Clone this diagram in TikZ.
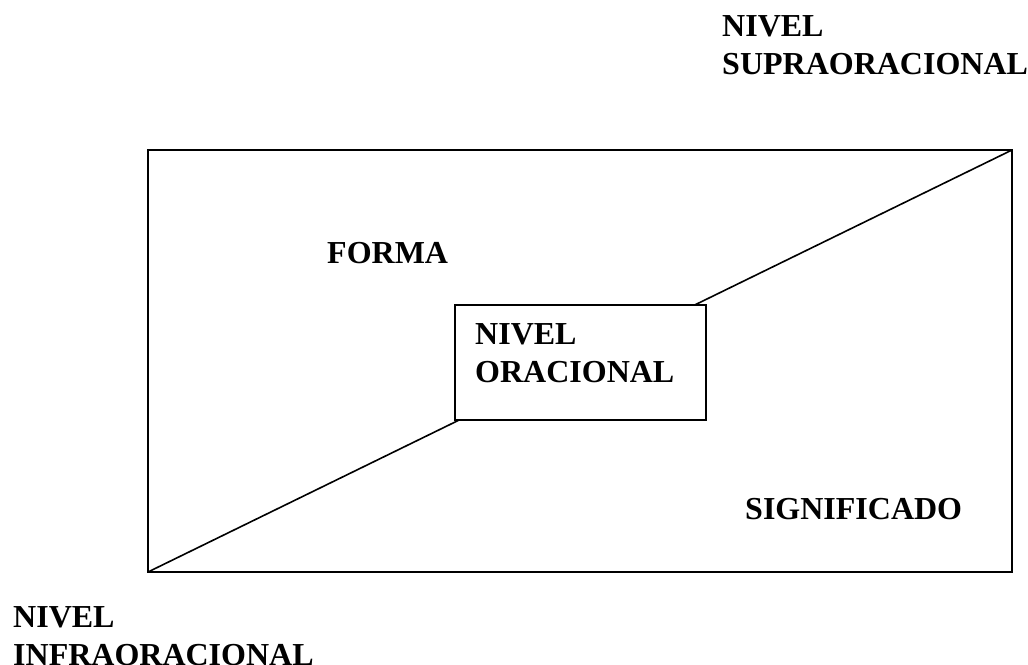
\documentclass[tikz,border=0pt]{standalone}
\usepackage{fontspec}
\setmainfont{Liberation Serif}
\begin{document}
\begin{tikzpicture}[x=1pt,y=-1pt,
  frame/.style={draw=black,line width=2pt},
  lbl/.style={anchor=base west,inner sep=0pt,align=left,
    font=\fontsize{32}{38}\selectfont\bfseries}]
\useasboundingbox (0,0) rectangle (1028,664);
% outer frame with its diagonal
\draw[frame] (148,150) rectangle (1012,572);
\coordinate (bl) at (148,572);
\coordinate (tr) at (1012,150);
\draw[frame,line width=1.6pt] (bl) -- (tr);
% inner box covering the middle of the diagonal
\node[frame,fill=white,minimum width=251pt,minimum height=115pt,
  inner sep=0pt,anchor=north west] (box) at (454,304) {};
% multi-line labels are placed by the baseline of their last line
\node[lbl] (orac) at (475,382) {NIVEL\\ORACIONAL};
\node[lbl] (supra) at (722,74) {NIVEL\\SUPRAORACIONAL};
\node[lbl] (infra) at (13,665) {NIVEL\\INFRAORACIONAL};
\node[lbl] (forma) at (327,263) {FORMA};
\node[lbl] (sig) at (745,519) {SIGNIFICADO};
\end{tikzpicture}
\end{document}
